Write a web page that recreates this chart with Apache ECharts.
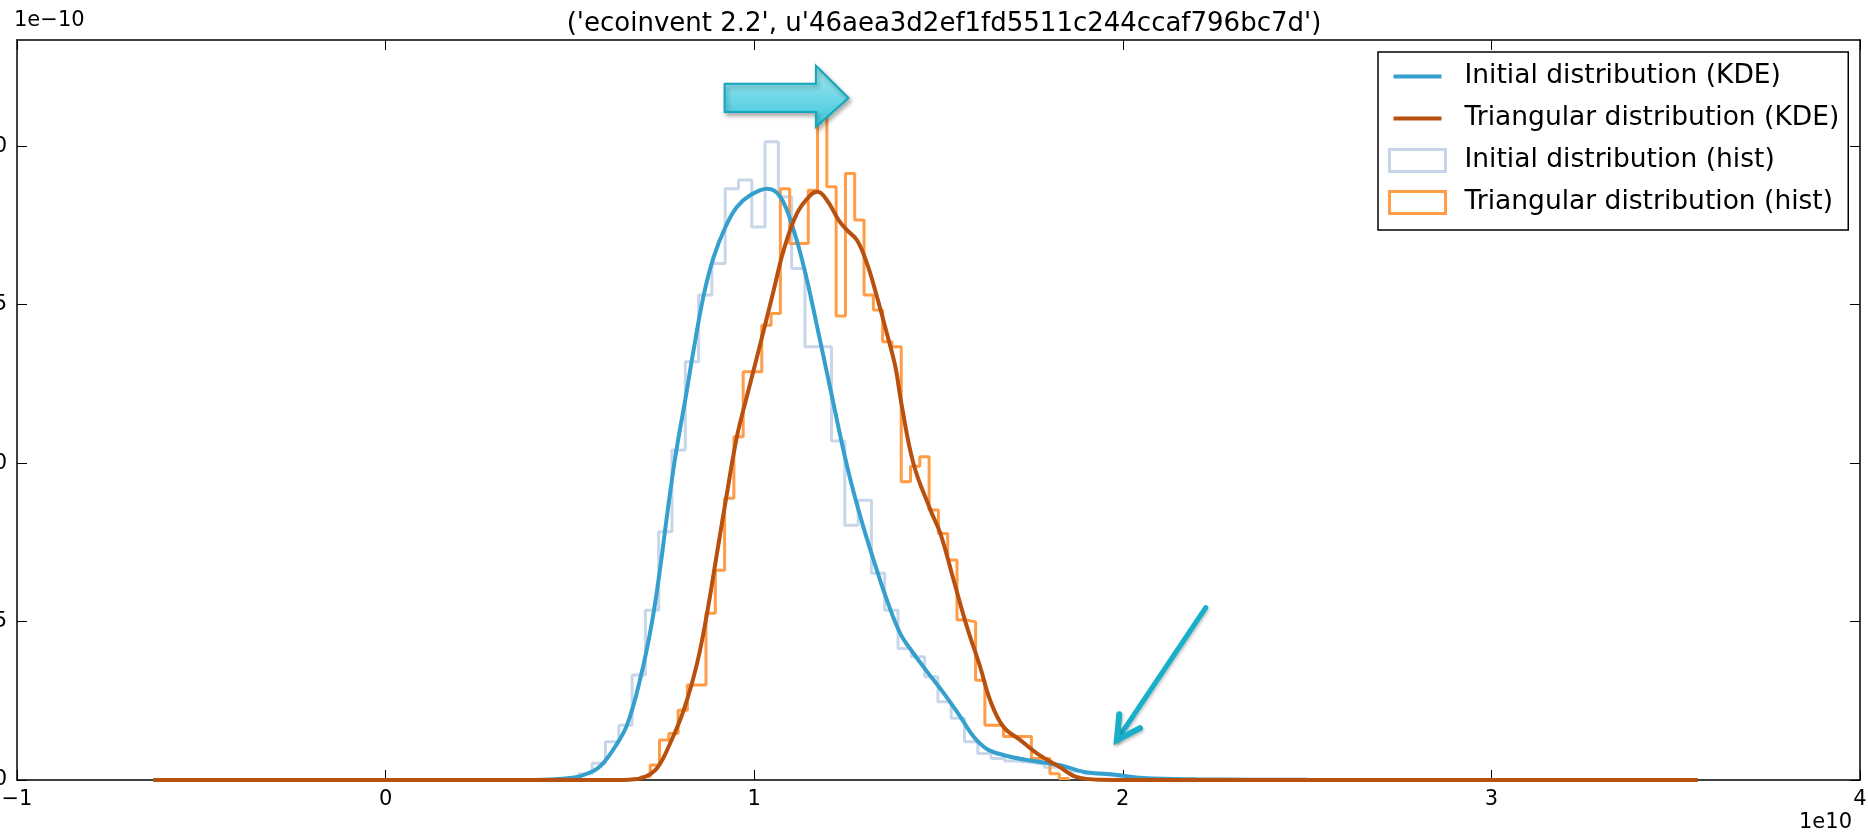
<!DOCTYPE html>
<html>
<head>
<meta charset="UTF-8">
<title>ecoinvent 2.2 distributions</title>
<script src="https://cdn.jsdelivr.net/npm/echarts@6/dist/echarts.min.js"></script>
</head>
<body style="margin:0;background:#fff;">
<div id="main" style="width:1868px;height:838px;"></div>
<script>
// axis ticks (x in 1e10, y in 1e-10)
var xTicks = [-1, 0, 1, 2, 3, 4];
var yTicks = [0, 0.5, 1.0, 1.5, 2.0];

// KDE curves
var kdeInitX = [-0.63, 0.40, 0.46, 0.50, 0.528, 0.555, 0.574, 0.592, 0.62, 0.655, 0.691, 0.723, 0.745, 0.763, 0.786, 0.813, 0.836, 0.863, 0.890, 0.922, 0.953, 0.989, 1.035, 1.071, 1.107, 1.139, 1.18, 1.211, 1.252, 1.288, 1.324, 1.360, 1.396, 1.432, 1.469, 1.514, 1.559, 1.595, 1.631, 1.676, 1.740, 1.830, 1.893, 1.985, 2.055, 2.2, 2.5, 3.56];
var kdeInitY = [0, 0, 0.002, 0.006, 0.012, 0.024, 0.036, 0.055, 0.10, 0.174, 0.32, 0.50, 0.67, 0.83, 1.02, 1.2, 1.36, 1.53, 1.65, 1.745, 1.808, 1.845, 1.866, 1.84, 1.735, 1.598, 1.38, 1.21, 0.99, 0.831, 0.694, 0.568, 0.463, 0.40, 0.342, 0.274, 0.20, 0.137, 0.098, 0.079, 0.063, 0.047, 0.026, 0.016, 0.006, 0.002, 0.0005, 0];

var kdeTriX = [-0.63, 0.60, 0.66, 0.70, 0.736, 0.772, 0.809, 0.845, 0.872, 0.899, 0.926, 0.953, 0.980, 1.017, 1.053, 1.080, 1.116, 1.152, 1.172, 1.197, 1.229, 1.252, 1.279, 1.306, 1.333, 1.360, 1.383, 1.399, 1.432, 1.478, 1.505, 1.541, 1.577, 1.613, 1.640, 1.676, 1.722, 1.767, 1.830, 1.876, 1.939, 2.1, 3.56];
var kdeTriY = [0, 0, 0.001, 0.008, 0.037, 0.116, 0.221, 0.368, 0.526, 0.715, 0.904, 1.083, 1.21, 1.378, 1.546, 1.672, 1.788, 1.845, 1.856, 1.830, 1.767, 1.735, 1.703, 1.630, 1.525, 1.409, 1.304, 1.19, 0.999, 0.852, 0.778, 0.631, 0.484, 0.357, 0.252, 0.168, 0.126, 0.084, 0.04, 0.009, 0.001, 0, 0];

// histograms: first bin edge, bin width, bin heights
var histInitStart = 0.5245;
var histInitWidth = 0.03607;
var histInitHeights = [0.02, 0.053, 0.121, 0.173, 0.331, 0.536, 0.783, 1.041, 1.320, 1.530, 1.630, 1.866, 1.893, 1.745, 2.014, 1.840, 1.614, 1.367, 1.367, 1.07, 0.804, 0.883, 0.652, 0.536, 0.415, 0.389, 0.326, 0.247, 0.195, 0.121, 0.084, 0.068, 0.06, 0.055, 0.05, 0.04, 0.035, 0.028, 0.02, 0.015, 0.01, 0.006, 0.003];

var histTriStart = 0.6927;
var histTriWidth = 0.02522;
var histTriHeights = [0.01, 0.047, 0.126, 0.147, 0.22, 0.30, 0.30, 0.526, 0.662, 0.889, 1.083, 1.288, 1.288, 1.435, 1.472, 1.866, 1.693, 1.693, 1.861, 2.10, 1.872, 1.464, 1.914, 1.767, 1.530, 1.483, 1.383, 1.367, 0.941, 0.99, 1.02, 0.852, 0.778, 0.694, 0.505, 0.499, 0.315, 0.173, 0.173, 0.137, 0.137, 0.137, 0.068, 0.068, 0.02, 0.005];

// annotation arrows, in data units
var blockArrow = [[0.9197, 2.197], [1.1675, 2.197], [1.1675, 2.254], [1.2558, 2.152], [1.1675, 2.061], [1.1675, 2.108], [0.9197, 2.108]];
var thinArrow = [[2.225, 0.544], [1.984, 0.126]];

var names = ['Initial distribution (KDE)', 'Triangular distribution (KDE)', 'Initial distribution (hist)', 'Triangular distribution (hist)'];
var colors = {kdeInit: '#35a0cd', kdeTri: '#b8500f', histInit: '#c8d6ea', histTri: '#ff9c45', arrow: '#17afc9', text: '#000'};
var font = 'DejaVu Sans';

function zipXY(xs, ys) {
    var out = [];
    for (var i = 0; i < xs.length; i++) {
        out.push([xs[i], ys[i]]);
    }
    return out;
}

function histPoints(start, width, heights) {
    var pts = [[start, 0]];
    for (var i = 0; i < heights.length; i++) {
        pts.push([start + i * width, heights[i]]);
        pts.push([start + (i + 1) * width, heights[i]]);
    }
    pts.push([start + heights.length * width, 0]);
    return pts;
}

function minusFmt(v) {
    return v < 0 ? '\u2212' + (-v) : String(v);
}

var myChart = echarts.init(document.getElementById('main'));

var frameX = {
    type: 'value', min: -1, max: 4, interval: 1,
    axisLine: {show: true, onZero: false, lineStyle: {color: '#000', width: 1.5}},
    axisTick: {show: true, inside: true, length: 10, lineStyle: {color: '#000', width: 1}},
    splitLine: {show: false}
};
var frameY = {
    type: 'value', min: 0, max: 2.335,
    axisLine: {show: true, onZero: false, lineStyle: {color: '#000', width: 1.5}},
    axisTick: {show: true, inside: true, length: 10, customValues: yTicks, lineStyle: {color: '#000', width: 1}},
    splitLine: {show: false}
};

// legend line icon: thin bar inside a wider, invisible box
var lineIcon = 'path://M0,0 M56,22 M4,9 L52,9 L52,13 L4,13 Z';

var option = {
    animation: false,
    backgroundColor: '#fff',
    title: {
        text: "('ecoinvent 2.2', u'46aea3d2ef1fd5511c244ccaf796bc7d')",
        left: 939, top: 6, textAlign: 'center',
        textStyle: {fontSize: 26, fontWeight: 'normal', fontFamily: font, color: colors.text}
    },
    grid: {left: 17, right: 8, top: 40, bottom: 58, containLabel: false, outerBoundsMode: 'none'},
    xAxis: [
        Object.assign({}, frameX, {
            position: 'bottom',
            axisLabel: {show: true, margin: 9, fontSize: 21, fontFamily: font, color: colors.text, formatter: minusFmt}
        }),
        Object.assign({}, frameX, {position: 'top', axisLabel: {show: false}})
    ],
    yAxis: [
        Object.assign({}, frameY, {
            position: 'left',
            axisLabel: {show: true, margin: 10, fontSize: 21, fontFamily: font, color: colors.text, customValues: yTicks,
                formatter: function (v) { return v.toFixed(1); }}
        }),
        Object.assign({}, frameY, {position: 'right', axisLabel: {show: false}})
    ],
    legend: {
        orient: 'vertical', left: 1378, top: 52,
        padding: [11, 9, 14, 10],
        itemGap: 15, itemWidth: 56, itemHeight: 22,
        backgroundColor: '#fff', borderColor: '#000', borderWidth: 1.5,
        textStyle: {fontSize: 26.5, fontFamily: font, color: colors.text, padding: [0, 0, 0, 14]},
        data: [
            {name: names[0], icon: lineIcon, itemStyle: {color: colors.kdeInit}},
            {name: names[1], icon: lineIcon, itemStyle: {color: colors.kdeTri}},
            {name: names[2], icon: 'rect', itemStyle: {color: '#fff', borderColor: colors.histInit, borderWidth: 3}},
            {name: names[3], icon: 'rect', itemStyle: {color: '#fff', borderColor: colors.histTri, borderWidth: 3}}
        ]
    },
    series: [
        {
            name: names[2], type: 'line', symbol: 'none', silent: true,
            data: histPoints(histInitStart, histInitWidth, histInitHeights),
            lineStyle: {color: colors.histInit, width: 3}, itemStyle: {color: colors.histInit}
        },
        {
            name: names[3], type: 'line', symbol: 'none', silent: true,
            data: histPoints(histTriStart, histTriWidth, histTriHeights),
            lineStyle: {color: colors.histTri, width: 3}, itemStyle: {color: colors.histTri}
        },
        {
            name: names[0], type: 'line', symbol: 'none', silent: true, smooth: 0.4,
            data: zipXY(kdeInitX, kdeInitY),
            lineStyle: {color: colors.kdeInit, width: 4}, itemStyle: {color: colors.kdeInit}
        },
        {
            name: names[1], type: 'line', symbol: 'none', silent: true, smooth: 0.4,
            data: zipXY(kdeTriX, kdeTriY),
            lineStyle: {color: colors.kdeTri, width: 4}, itemStyle: {color: colors.kdeTri}
        }
    ]
};

myChart.setOption(option);

// annotations: multipliers and the two arrows
function px(p) {
    return myChart.convertToPixel({xAxisIndex: 0, yAxisIndex: 0}, p);
}
var arrowPts = blockArrow.map(px);
var tail = px(thinArrow[0]);
var tip = px(thinArrow[1]);
var dx = tail[0] - tip[0], dy = tail[1] - tip[1];
var len = Math.sqrt(dx * dx + dy * dy);
var ux = dx / len, uy = dy / len;
var headLen = 26, headAng = 0.5;
function rot(x, y, a) {
    return [x * Math.cos(a) - y * Math.sin(a), x * Math.sin(a) + y * Math.cos(a)];
}
var h1 = rot(ux, uy, headAng), h2 = rot(ux, uy, -headAng);

myChart.setOption({
    graphic: [
        {type: 'text', left: 14, top: 10, z: 10,
            style: {text: '1e\u221210', fontSize: 21, fontFamily: font, fill: colors.text}},
        {type: 'text', right: 16, top: 812, z: 10,
            style: {text: '1e10', fontSize: 21, fontFamily: font, fill: colors.text}},
        {type: 'polygon', z: 20,
            shape: {points: arrowPts},
            style: {
                fill: new echarts.graphic.LinearGradient(0, 0, 0, 1, [
                    {offset: 0, color: '#a6eaf3'},
                    {offset: 1, color: '#3cc5da'}
                ]),
                stroke: '#12a7bd', lineWidth: 2,
                shadowBlur: 4, shadowOffsetX: 2, shadowOffsetY: 3, shadowColor: 'rgba(0,0,0,0.3)'
            }},
        {type: 'polyline', z: 20,
            shape: {points: [tail, tip]},
            style: {stroke: colors.arrow, lineWidth: 5, lineCap: 'round',
                shadowBlur: 3, shadowOffsetX: 1, shadowOffsetY: 2, shadowColor: 'rgba(0,0,0,0.25)'}},
        {type: 'polyline', z: 20,
            shape: {points: [[tip[0] + h1[0] * headLen, tip[1] + h1[1] * headLen], tip, [tip[0] + h2[0] * headLen, tip[1] + h2[1] * headLen]]},
            style: {stroke: colors.arrow, lineWidth: 6, lineCap: 'round', lineJoin: 'miter',
                shadowBlur: 3, shadowOffsetX: 1, shadowOffsetY: 2, shadowColor: 'rgba(0,0,0,0.25)'}}
    ]
});
</script>
</body>
</html>
